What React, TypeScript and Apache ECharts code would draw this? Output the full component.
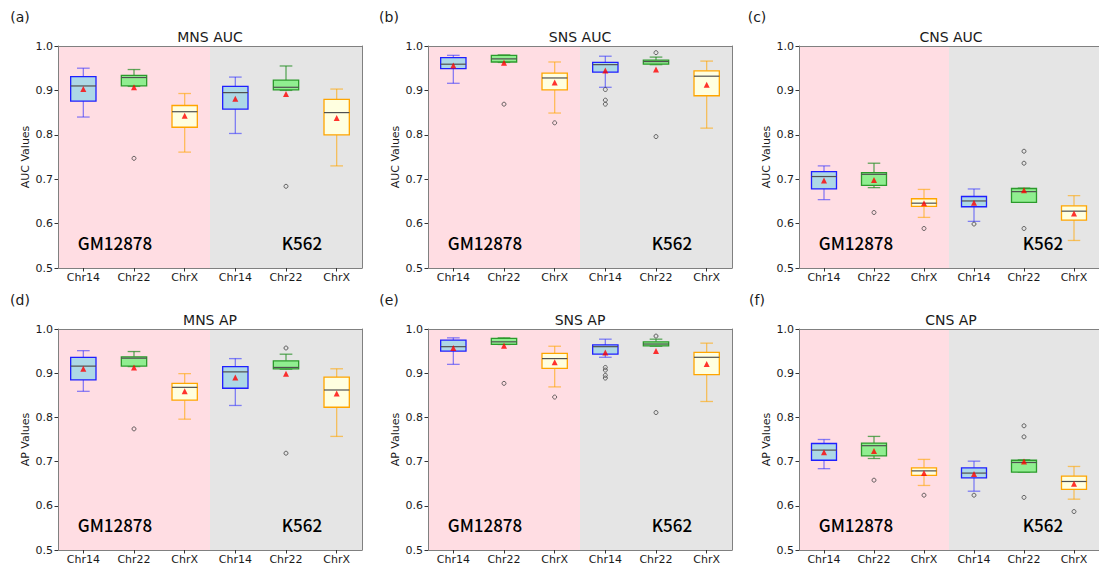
import React, { useEffect, useRef } from 'react';
import * as echarts from 'echarts';

// Category layout: two cell lines, three chromosomes each
const CELL_LINES = ['GM12878', 'K562'];
const CHROMS = ['Chr14', 'Chr22', 'ChrX'];
const CATEGORIES = CELL_LINES.flatMap((c) => CHROMS.map((ch) => `${c} ${ch}`));

// Box statistics per category: [whisker low, Q1, median, Q3, whisker high]
const mnsAucBoxes = [
  [0.840, 0.876, 0.910, 0.931, 0.950],
  [0.909, 0.910, 0.929, 0.934, 0.947],
  [0.761, 0.817, 0.852, 0.866, 0.893],
  [0.803, 0.858, 0.895, 0.909, 0.930],
  [0.900, 0.901, 0.907, 0.923, 0.955],
  [0.730, 0.800, 0.850, 0.880, 0.903],
];
const mnsAucMeans = [0.903, 0.907, 0.843, 0.881, 0.892, 0.838];
const mnsAucOutliers = [[1, 0.747], [4, 0.684]];

const snsAucBoxes = [
  [0.916, 0.949, 0.959, 0.974, 0.979],
  [0.963, 0.964, 0.971, 0.979, 0.980],
  [0.849, 0.901, 0.928, 0.939, 0.964],
  [0.907, 0.941, 0.958, 0.963, 0.977],
  [0.958, 0.959, 0.965, 0.968, 0.975],
  [0.815, 0.888, 0.932, 0.944, 0.966],
];
const snsAucMeans = [0.956, 0.962, 0.918, 0.945, 0.947, 0.913];
const snsAucOutliers = [[1, 0.869], [2, 0.827], [3, 0.902], [3, 0.878], [3, 0.869], [4, 0.985], [4, 0.796]];

const cnsAucBoxes = [
  [0.654, 0.678, 0.706, 0.717, 0.730],
  [0.681, 0.686, 0.711, 0.715, 0.736],
  [0.614, 0.639, 0.646, 0.656, 0.677],
  [0.605, 0.638, 0.651, 0.661, 0.678],
  [0.648, 0.648, 0.672, 0.679, 0.680],
  [0.562, 0.608, 0.628, 0.640, 0.663],
];
const cnsAucMeans = [0.697, 0.698, 0.646, 0.647, 0.675, 0.623];
const cnsAucOutliers = [[1, 0.625], [2, 0.589], [3, 0.599], [4, 0.763], [4, 0.736], [4, 0.589]];

const mnsApBoxes = [
  [0.859, 0.885, 0.916, 0.936, 0.951],
  [0.915, 0.916, 0.934, 0.937, 0.949],
  [0.796, 0.839, 0.868, 0.877, 0.899],
  [0.827, 0.866, 0.903, 0.915, 0.933],
  [0.909, 0.910, 0.913, 0.928, 0.943],
  [0.757, 0.823, 0.862, 0.891, 0.910],
];
const mnsApMeans = [0.910, 0.913, 0.859, 0.890, 0.899, 0.854];
const mnsApOutliers = [[1, 0.774], [4, 0.957], [4, 0.719]];

const snsApBoxes = [
  [0.920, 0.950, 0.960, 0.975, 0.980],
  [0.965, 0.965, 0.971, 0.979, 0.980],
  [0.869, 0.911, 0.933, 0.945, 0.961],
  [0.936, 0.943, 0.960, 0.964, 0.977],
  [0.961, 0.962, 0.966, 0.971, 0.977],
  [0.836, 0.897, 0.936, 0.947, 0.968],
];
const snsApMeans = [0.957, 0.962, 0.925, 0.947, 0.950, 0.921];
const snsApOutliers = [[1, 0.877], [2, 0.846], [3, 0.913], [3, 0.907], [3, 0.895], [3, 0.889], [4, 0.984], [4, 0.811]];

const cnsApBoxes = [
  [0.684, 0.703, 0.726, 0.741, 0.750],
  [0.707, 0.713, 0.736, 0.742, 0.757],
  [0.646, 0.669, 0.679, 0.686, 0.705],
  [0.633, 0.663, 0.674, 0.686, 0.701],
  [0.676, 0.676, 0.698, 0.703, 0.704],
  [0.615, 0.637, 0.655, 0.667, 0.689],
];
const cnsApMeans = [0.721, 0.724, 0.674, 0.672, 0.700, 0.650];
const cnsApOutliers = [[1, 0.658], [2, 0.624], [3, 0.624], [4, 0.781], [4, 0.756], [4, 0.619], [5, 0.587]];

const PANELS = [
  { tag: '(a)', title: 'MNS AUC', yName: 'AUC Values', boxes: mnsAucBoxes, means: mnsAucMeans, outliers: mnsAucOutliers },
  { tag: '(b)', title: 'SNS AUC', yName: 'AUC Values', boxes: snsAucBoxes, means: snsAucMeans, outliers: snsAucOutliers },
  { tag: '(c)', title: 'CNS AUC', yName: 'AUC Values', boxes: cnsAucBoxes, means: cnsAucMeans, outliers: cnsAucOutliers },
  { tag: '(d)', title: 'MNS AP', yName: 'AP Values', boxes: mnsApBoxes, means: mnsApMeans, outliers: mnsApOutliers },
  { tag: '(e)', title: 'SNS AP', yName: 'AP Values', boxes: snsApBoxes, means: snsApMeans, outliers: snsApOutliers },
  { tag: '(f)', title: 'CNS AP', yName: 'AP Values', boxes: cnsApBoxes, means: cnsApMeans, outliers: cnsApOutliers },
];

// Styling
const FONT = 'DejaVu Sans';
const TEXT = '#1a1a1a';
const FRAME = '#808080';
const PINK = '#ffdde3';
const GRAY = '#e5e5e5';
const BOX_STYLES = [
  { fill: '#add8e6', edge: '#1f1fff', whisker: 'rgba(40,40,255,0.55)' },
  { fill: '#90ee90', edge: '#2c9a2c', whisker: 'rgba(30,140,30,0.7)' },
  { fill: '#ffffe0', edge: '#ffa500', whisker: 'rgba(255,165,0,0.6)' },
];

// Panel placement in pixels
const COL_LEFT = [58, 428, 799];
const TAG_X = [20, 389, 757];
const ROW_TOP = [46, 329];
const PLOT_W = 304;
const PLOT_H = [222, 221];

function renderBox(params: any, api: any) {
  const idx = api.value(0);
  const lo = api.coord([idx, api.value(1)]);
  const q1 = api.coord([idx, api.value(2)]);
  const med = api.coord([idx, api.value(3)]);
  const q3 = api.coord([idx, api.value(4)]);
  const hi = api.coord([idx, api.value(5)]);
  const band = api.size([1, 0])[0];
  const bw = band * 0.5;
  const cw = bw * 0.5;
  const x = lo[0];
  const s = BOX_STYLES[idx % 3];
  const wStyle = { stroke: s.whisker, lineWidth: 1.3 };
  return {
    type: 'group',
    children: [
      { type: 'line', shape: { x1: x, y1: q3[1], x2: x, y2: hi[1] }, style: wStyle },
      { type: 'line', shape: { x1: x, y1: q1[1], x2: x, y2: lo[1] }, style: wStyle },
      { type: 'line', shape: { x1: x - cw / 2, y1: hi[1], x2: x + cw / 2, y2: hi[1] }, style: wStyle },
      { type: 'line', shape: { x1: x - cw / 2, y1: lo[1], x2: x + cw / 2, y2: lo[1] }, style: wStyle },
      {
        type: 'rect',
        shape: { x: x - bw / 2, y: q3[1], width: bw, height: q1[1] - q3[1] },
        style: { fill: s.fill, stroke: s.edge, lineWidth: 1.3 },
      },
      {
        type: 'line',
        shape: { x1: x - bw / 2, y1: med[1], x2: x + bw / 2, y2: med[1] },
        style: { stroke: '#505050', lineWidth: 1.2 },
      },
    ],
  };
}

function buildOption() {
  const grid: any[] = [];
  const xAxis: any[] = [];
  const yAxis: any[] = [];
  const series: any[] = [];
  const graphic: any[] = [];

  PANELS.forEach((p, i) => {
    const col = i % 3;
    const row = Math.floor(i / 3);
    const left = COL_LEFT[col];
    const top = ROW_TOP[row];
    const h = PLOT_H[row];
    grid.push({ left, top, width: PLOT_W, height: h, containLabel: false });

    // category axis with the chromosome labels
    xAxis.push({
      type: 'category',
      gridIndex: i,
      data: CATEGORIES,
      position: 'bottom',
      axisLine: { show: true, lineStyle: { color: FRAME, width: 1 } },
      axisTick: { show: true, alignWithLabel: true, length: 3.5, lineStyle: { color: '#333' } },
      axisLabel: {
        fontSize: 11,
        color: TEXT,
        margin: 4,
        fontFamily: FONT,
        formatter: (v: string) => v.split(' ')[1],
      },
      splitLine: { show: false },
    });
    // hidden value axis: shades the two cell-line halves and draws the top frame
    xAxis.push({
      type: 'value',
      gridIndex: i,
      position: 'top',
      min: 0,
      max: 6,
      interval: 3,
      axisLine: { show: true, lineStyle: { color: FRAME, width: 1 } },
      axisTick: { show: false },
      axisLabel: { show: false },
      splitLine: { show: false },
      splitArea: { show: true, areaStyle: { color: [PINK, GRAY] } },
    });
    yAxis.push({
      type: 'value',
      gridIndex: i,
      position: 'left',
      min: 0.5,
      max: 1.0,
      interval: 0.1,
      name: p.yName,
      nameLocation: 'middle',
      nameGap: 27,
      nameTextStyle: { fontSize: 11, color: TEXT, fontFamily: FONT },
      axisLine: { show: true, lineStyle: { color: FRAME, width: 1 } },
      axisTick: { show: true, length: 3.5, lineStyle: { color: '#333' } },
      axisLabel: {
        fontSize: 11,
        color: TEXT,
        margin: 5,
        fontFamily: FONT,
        formatter: (v: number) => v.toFixed(1),
      },
      splitLine: { show: false },
    });
    yAxis.push({
      type: 'value',
      gridIndex: i,
      position: 'right',
      min: 0.5,
      max: 1.0,
      axisLine: { show: true, lineStyle: { color: FRAME, width: 1 } },
      axisTick: { show: false },
      axisLabel: { show: false },
      splitLine: { show: false },
    });

    const xi = i * 2;
    const yi = i * 2;
    series.push({
      type: 'custom',
      xAxisIndex: xi,
      yAxisIndex: yi,
      renderItem: renderBox,
      encode: { x: 0, y: [1, 2, 3, 4, 5] },
      data: p.boxes.map((b, k) => [k, ...b]),
      silent: true,
    });
    series.push({
      type: 'scatter',
      xAxisIndex: xi,
      yAxisIndex: yi,
      symbol: 'circle',
      symbolSize: 4,
      itemStyle: { color: 'rgba(0,0,0,0)', borderColor: '#444', borderWidth: 1 },
      data: p.outliers,
      silent: true,
    });
    series.push({
      type: 'scatter',
      xAxisIndex: xi,
      yAxisIndex: yi,
      symbol: 'triangle',
      symbolSize: 6,
      itemStyle: { color: '#ff0000' },
      data: p.means.map((m, k) => [k, m]),
      silent: true,
    });

    graphic.push({
      type: 'text',
      x: TAG_X[col],
      y: top - 29,
      style: { text: p.tag, fontSize: 14, fill: TEXT, fontFamily: FONT, align: 'center', verticalAlign: 'middle' },
    });
    graphic.push({
      type: 'text',
      x: left + PLOT_W / 2,
      y: top - 9,
      style: { text: p.title, fontSize: 14, fill: TEXT, fontFamily: FONT, align: 'center', verticalAlign: 'middle' },
    });
    graphic.push({
      type: 'text',
      x: left + 57,
      y: top + h - 26,
      z: 10,
      style: { text: CELL_LINES[0], fontSize: 17, fill: '#000', fontFamily: 'Noto Sans CJK SC', fontWeight: 500, align: 'center', verticalAlign: 'middle' },
    });
    graphic.push({
      type: 'text',
      x: left + 244,
      y: top + h - 26,
      z: 10,
      style: { text: CELL_LINES[1], fontSize: 17, fill: '#000', fontFamily: 'Noto Sans CJK SC', fontWeight: 500, align: 'center', verticalAlign: 'middle' },
    });
  });

  return {
    animation: false,
    backgroundColor: '#ffffff',
    textStyle: { fontFamily: FONT },
    grid,
    xAxis,
    yAxis,
    series,
    graphic,
  };
}

export default function App() {
  const ref = useRef<HTMLDivElement>(null);
  useEffect(() => {
    if (!ref.current) return;
    const chart = echarts.init(ref.current, null, { renderer: 'svg' });
    chart.setOption(buildOption() as any);
    return () => chart.dispose();
  }, []);
  return (
    <div
      ref={ref}
      style={{ position: 'fixed', left: 0, top: 0, width: 1099, height: 568, background: '#fff' }}
    />
  );
}
